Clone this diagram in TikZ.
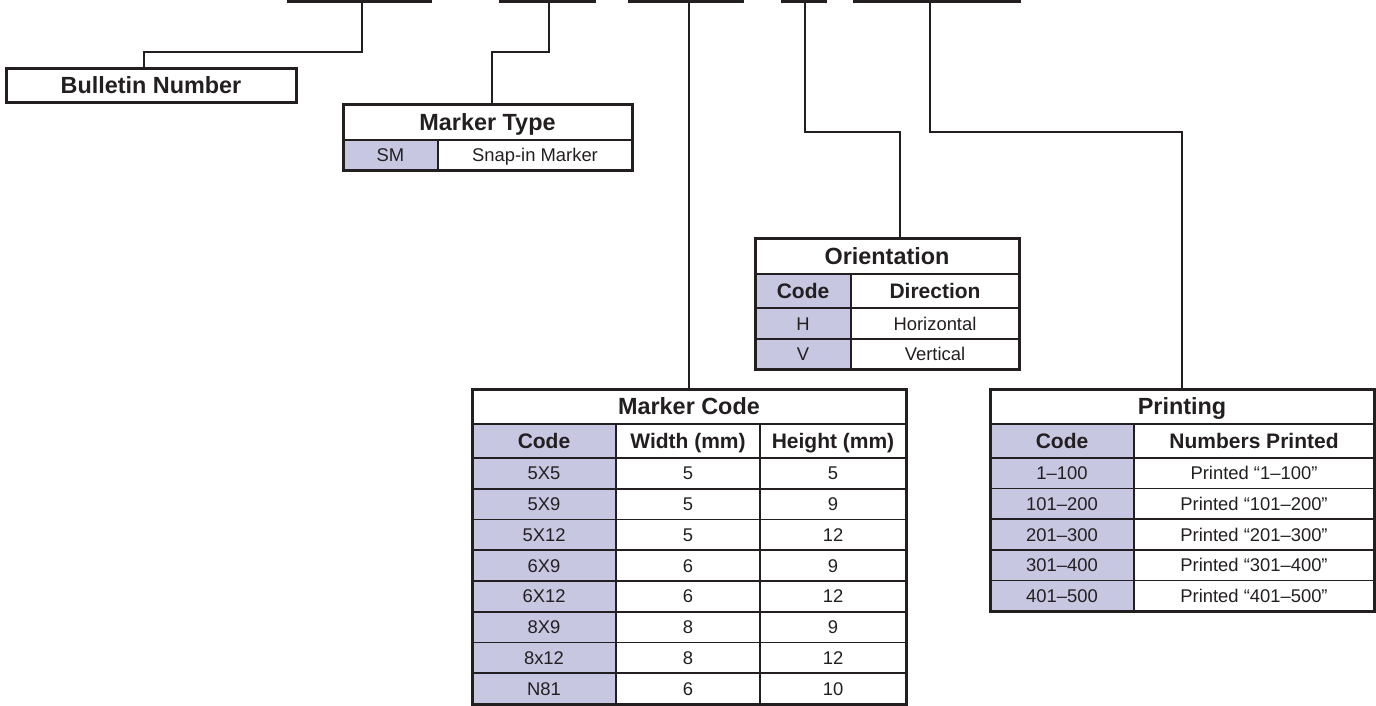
\documentclass[tikz,border=0pt]{standalone}
\usepackage{fontspec}
\setmainfont{Liberation Sans}
\definecolor{ink}{HTML}{231F20}
\definecolor{lav}{RGB}{199,199,226}
\tikzset{
 cellb/.style={draw=ink, line width=1.6pt, inner sep=0pt, outer sep=0pt, anchor=north west, text=ink, align=center},
 ttl/.style={cellb, font=\bfseries\fontsize{23.4}{26}\selectfont, text height=16.8pt, text depth=0pt},
 hdr/.style={cellb, font=\bfseries\fontsize{21}{24}\selectfont, text height=15pt, text depth=0pt},
 bdy/.style={cellb, font=\fontsize{18.4}{21}\selectfont, text height=13.2pt, text depth=0pt},
 shade/.style={fill=lav},
 frame/.style={draw=ink, line width=3pt},
 wire/.style={draw=ink, line width=2pt},
 bar/.style={draw=ink, line width=2.6pt},
}
\newcommand\tc[7]{\node[#6, minimum width=#4pt, minimum height=#5pt] (#1) at (#2,#3) {#7};}
\begin{document}
\begin{tikzpicture}[x=1pt,y=-1pt]
\useasboundingbox (0,0) rectangle (1376,705);
% top bars
\coordinate (b1w) at (287,1.3); \coordinate (b1e) at (432,1.3);
\coordinate (b2w) at (499,1.3); \coordinate (b2e) at (596,1.3);
\coordinate (b3w) at (628,1.3); \coordinate (b3e) at (744,1.3);
\coordinate (b4w) at (781,1.3); \coordinate (b4e) at (827,1.3);
\coordinate (b5w) at (853,1.3); \coordinate (b5e) at (1021,1.3);
\draw[bar] (b1w) -- (b1e);
\draw[bar] (b2w) -- (b2e);
\draw[bar] (b3w) -- (b3e);
\draw[bar] (b4w) -- (b4e);
\draw[bar] (b5w) -- (b5e);
% Bulletin Number
\tc{bul}{6}{68}{290}{34}{ttl,frame}{Bulletin Number}
% Marker Type
\tc{mt}{343}{104}{289}{36}{ttl}{Marker Type}
\tc{mta}{343}{140}{95}{30}{bdy,shade}{SM}
\tc{mtb}{438}{140}{194}{30}{bdy}{Snap-in Marker}
\draw[frame] (mt.north west) rectangle (mtb.south east);
% Orientation
\tc{or}{755}{238}{264}{36}{ttl}{Orientation}
\tc{orh1}{755}{274}{96}{34}{hdr,shade}{Code}
\tc{orh2}{851}{274}{168}{34}{hdr}{Direction}
\tc{or1a}{755}{308}{96}{31}{bdy,shade}{H}
\tc{or1b}{851}{308}{168}{31}{bdy}{Horizontal}
\tc{or2a}{755}{339}{96}{30}{bdy,shade}{V}
\tc{or2b}{851}{339}{168}{30}{bdy}{Vertical}
\draw[frame] (or.north west) rectangle (or2b.south east);
% Marker Code
\tc{mc}{472}{389}{434}{35}{ttl}{Marker Code}
\tc{mch1}{472}{424}{144}{34}{hdr,shade}{Code}
\tc{mch2}{616}{424}{144}{34}{hdr}{Width (mm)}
\tc{mch3}{760}{424}{146}{34}{hdr}{Height (mm)}
\foreach \c/\w/\h [count=\i] in {5X5/5/5,5X9/5/9,5X12/5/12,6X9/6/9,6X12/6/12,8X9/8/9,8x12/8/12,N81/6/10}{
  \pgfmathsetmacro\yy{458+(\i-1)*30.75}
  \tc{mc\i a}{472}{\yy}{144}{30.75}{bdy,shade}{\c}
  \tc{mc\i b}{616}{\yy}{144}{30.75}{bdy}{\w}
  \tc{mc\i c}{760}{\yy}{146}{30.75}{bdy}{\h}
}
\draw[frame] (mc.north west) rectangle (mc8c.south east);
% Printing
\tc{pr}{990}{389}{384}{35}{ttl}{Printing}
\tc{prh1}{990}{424}{144}{34}{hdr,shade}{Code}
\tc{prh2}{1134}{424}{240}{34}{hdr}{Numbers Printed}
\foreach \c [count=\i] in {1–100,101–200,201–300,301–400,401–500}{
  \pgfmathsetmacro\yy{458+(\i-1)*30.6}
  \tc{pr\i a}{990}{\yy}{144}{30.6}{bdy,shade}{\c}
  \tc{pr\i b}{1134}{\yy}{240}{30.6}{bdy}{Printed “\c”}
}
\draw[frame] (pr.north west) rectangle (pr5b.south east);
% connectors
\coordinate (t1) at (362,1.3); \coordinate (j1) at (144,52);
\draw[wire] (t1) |- (j1) -- (j1 |- bul.north);
\coordinate (t2) at (549,1.3); \coordinate (j2) at (492,52);
\draw[wire] (t2) |- (j2) -- (j2 |- mt.north);
\coordinate (t3) at (689,1.3);
\draw[wire] (t3) -- (t3 |- mc.north);
\coordinate (t4) at (805,1.3); \coordinate (j4) at (900,132);
\draw[wire] (t4) |- (j4) -- (j4 |- or.north);
\coordinate (t5) at (930,1.3); \coordinate (j5) at (1182,132);
\draw[wire] (t5) |- (j5) -- (j5 |- pr.north);
\end{tikzpicture}
\end{document}
